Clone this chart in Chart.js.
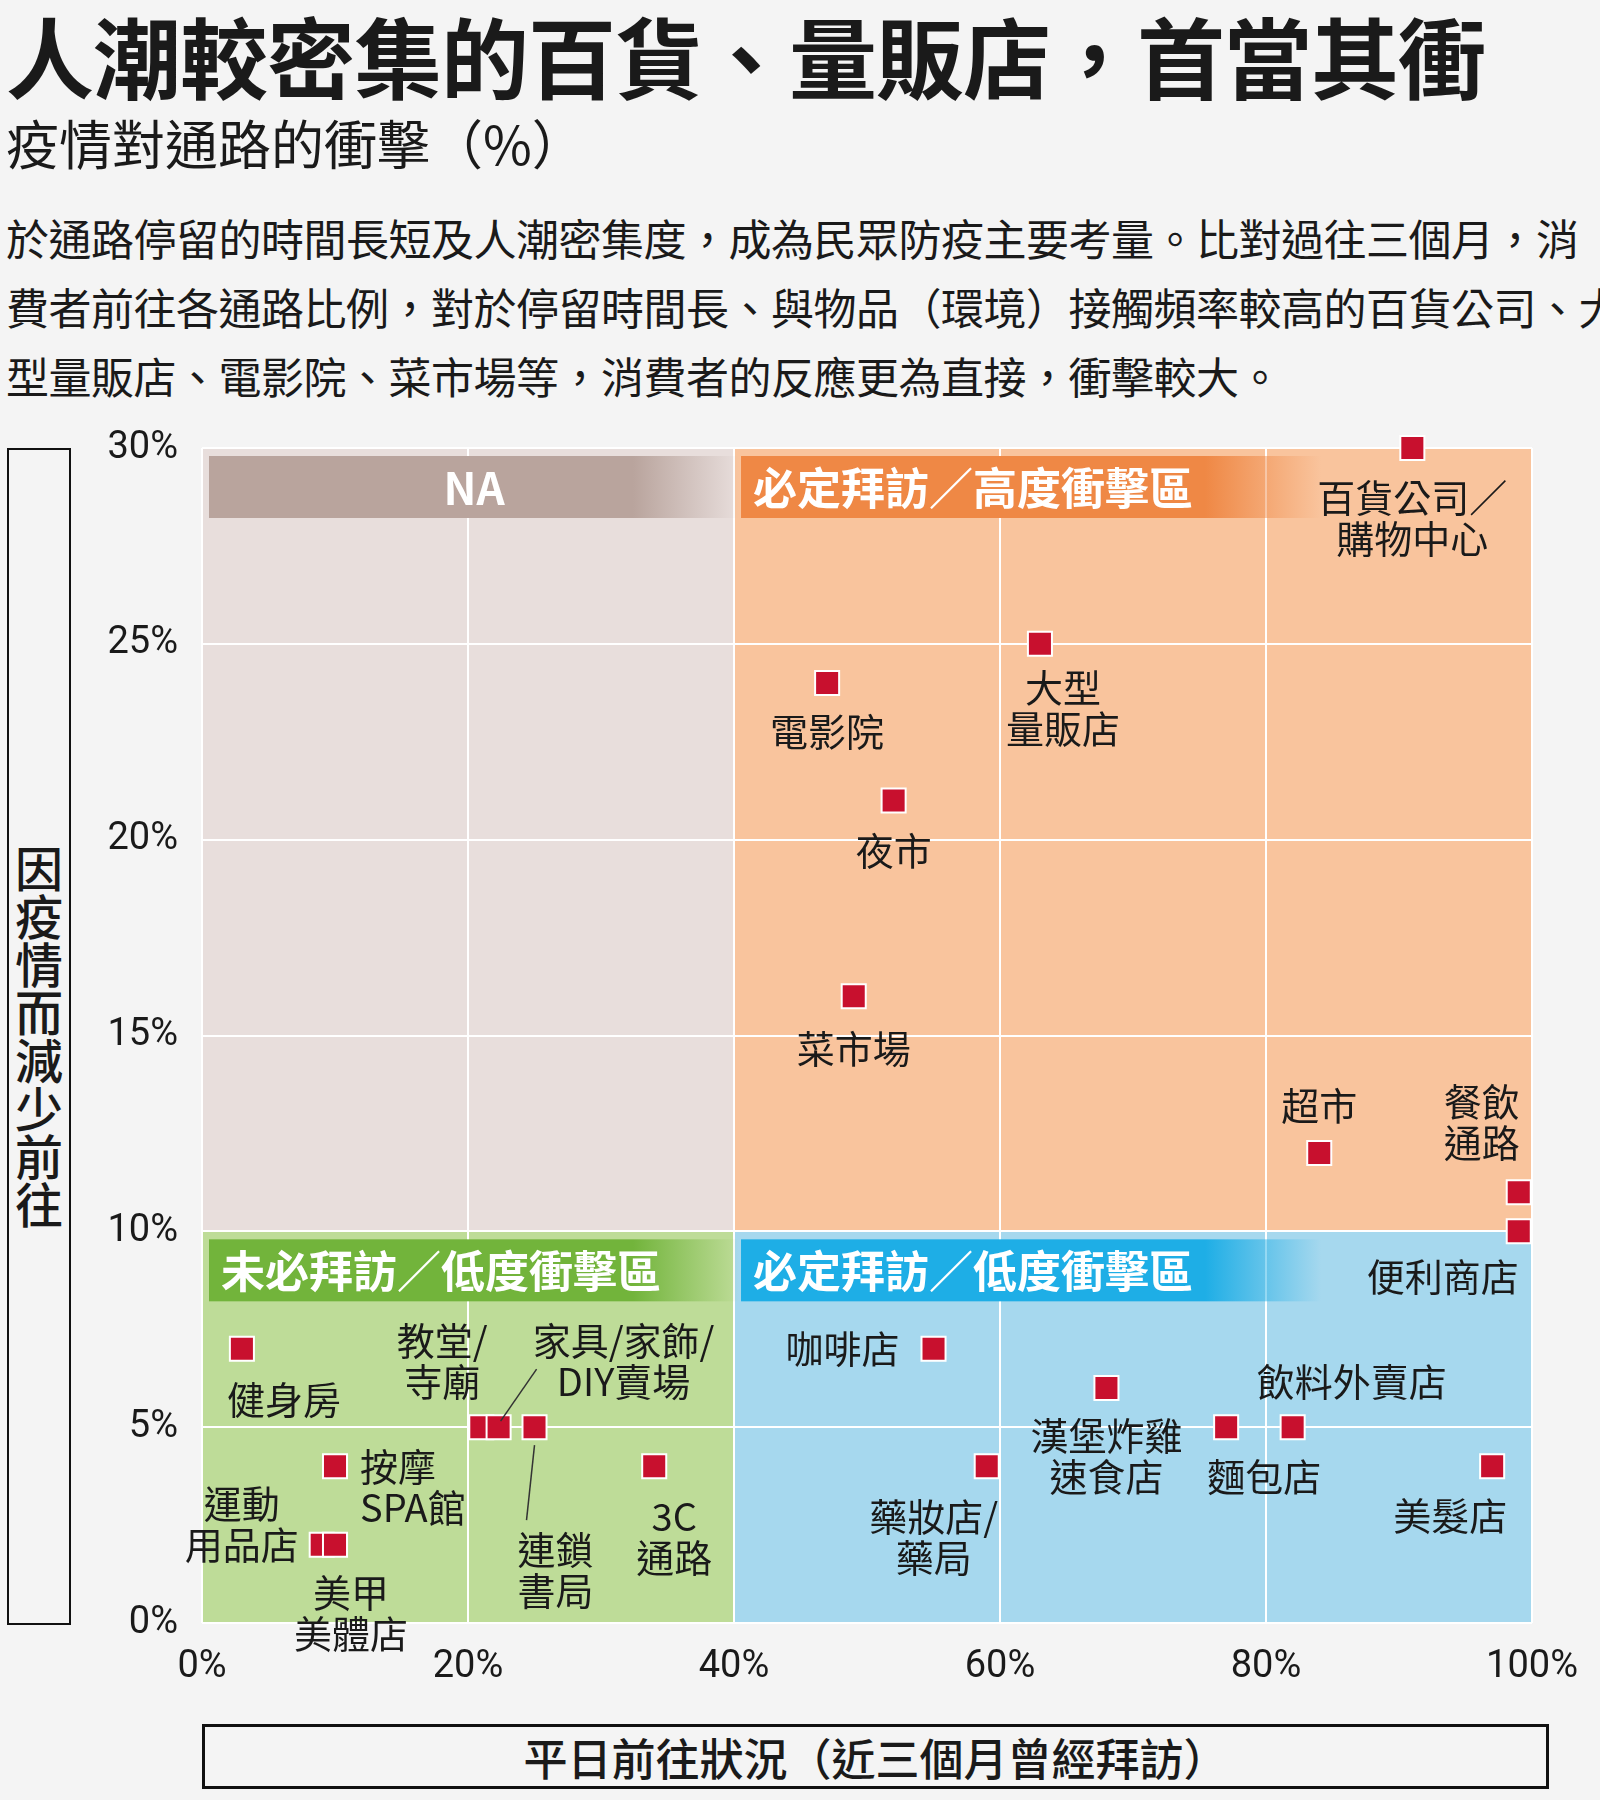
<!DOCTYPE html>
<html><head><meta charset="utf-8">
<script src="https://cdn.jsdelivr.net/npm/chart.js@4.4.0/dist/chart.umd.min.js"></script>
<style>
body{margin:0;background:#f4f4f4;font-family:"Noto Sans CJK TC","Noto Sans",sans-serif;color:#1a1a1a}
#wrap{position:relative;width:1600px;height:1800px;overflow:hidden}
.t{position:absolute;white-space:nowrap}
#title{left:6px;top:-10px;font-size:88px;font-weight:700;letter-spacing:-1px}
#sub{left:6px;top:104px;font-size:53px}
#para{left:6px;top:203px;font-size:43px;line-height:69px;letter-spacing:-0.5px}
#ybox{position:absolute;left:7px;top:448px;width:60px;height:1173px;border:2px solid #111;display:flex;align-items:center;justify-content:center}
#ybox span{writing-mode:vertical-rl;font-size:48px;font-weight:500;letter-spacing:0}
#xbox{position:absolute;left:202px;top:1724px;width:1341px;height:59px;border:3px solid #111;display:flex;align-items:center;justify-content:center;font-size:44px;font-weight:500}
canvas{position:absolute;left:0;top:0}
</style></head><body>
<div id="wrap">
<div class="t" id="title">人潮較密集的百貨、量販店，首當其衝</div>
<div class="t" id="sub">疫情對通路的衝擊（%）</div>
<div class="t" id="para">於通路停留的時間長短及人潮密集度，成為民眾防疫主要考量。比對過往三個月，消<br>費者前往各通路比例，對於停留時間長、與物品（環境）接觸頻率較高的百貨公司、大<br>型量販店、電影院、菜市場等，消費者的反應更為直接，衝擊較大。</div>
<div id="ybox"><span>因疫情而減少前往</span></div>
<div id="xbox">平日前往狀況（近三個月曾經拜訪）</div>
<canvas id="c" width="1600" height="1800"></canvas>
</div>
<script>
// channel names, x = 平日前往 %, y = 減少前往 %
const names = ["百貨公司／購物中心","大型量販店","電影院","夜市","菜市場","超市","餐飲通路","便利商店",
  "咖啡店","漢堡炸雞速食店","飲料外賣店","麵包店","藥妝店/藥局","美髮店",
  "健身房","按摩SPA館","運動用品店","美甲美體店","教堂/寺廟","家具/家飾/DIY賣場","連鎖書局","3C通路"];
const visitPct = [91,63,47,52,49,84,99,99, 55,68,82,77,59,97, 3,10,9,10,21,22.3,25,34];
const dropPct  = [30,25,24,21,16,12,11,10, 7,6,5,5,4,4, 7,4,2,2,5,5,5,4];
const xTicks = ["0%","20%","40%","60%","80%","100%"];
const yTicks = ["0%","5%","10%","15%","20%","25%","30%"];

// label text lines and offsets from the point (px)
const labelLines = [["百貨公司／","購物中心"],["大型","量販店"],["電影院"],["夜市"],["菜市場"],["超市"],["餐飲","通路"],["便利商店"],
  ["咖啡店"],["漢堡炸雞","速食店"],["飲料外賣店"],["麵包店"],["藥妝店/","藥局"],["美髮店"],
  ["健身房"],["按摩","SPA館"],["運動","用品店"],["美甲","美體店"],["教堂/","寺廟"],["家具/家飾/","DIY賣場"],["連鎖","書局"],["3C","通路"]];
const labelOff = [[0,50],[23,44],[0,49],[0,50],[0,52],[0,-47],[-37,-91],[-76,45],
  [-91,0],[0,48],[59,-46],[38,49],[-53,50],[-42,49],
  [42,51],[25,0,"left"],[-80,-41],[16,48],[-39,-87],[125,-87],[21,122],[20,50]];
const leaders = [[19,[[2,-6],[38,-58]]],[20,[[0,18],[-8,93]]]];

const quads = [
  {x0:0,x1:40,y0:10,y1:30,bg:"#e8dedc",band:"#b9a49d",text:"NA",center:true,bw:530},
  {x0:40,x1:100,y0:10,y1:30,bg:"#f9c49d",band:"#ef8845",text:"必定拜訪／高度衝擊區",bw:580},
  {x0:0,x1:40,y0:0,y1:10,bg:"#bedc98",band:"#72b43b",text:"未必拜訪／低度衝擊區",bw:530},
  {x0:40,x1:100,y0:0,y1:10,bg:"#a6d8ee",band:"#1eaee6",text:"必定拜訪／低度衝擊區",bw:580}
];

const bgPlugin = {
  id:"bg",
  beforeDraw(chart){
    const {ctx,scales:{x,y}} = chart;
    ctx.save();
    quads.forEach(q=>{
      const l=x.getPixelForValue(q.x0), r=x.getPixelForValue(q.x1);
      const t=y.getPixelForValue(q.y1), b=y.getPixelForValue(q.y0);
      ctx.fillStyle=q.bg; ctx.fillRect(l,t,r-l,b-t);
    });
    ctx.restore();
  },
  afterDatasetsDraw(chart){
    const {ctx,scales:{x,y}} = chart;
    ctx.save();
    quads.forEach(q=>{
      const l=x.getPixelForValue(q.x0)+7;
      const t=y.getPixelForValue(q.y1)+8;
      const w=q.bw;
      const g=ctx.createLinearGradient(l,0,l+w,0);
      g.addColorStop(0,q.band); g.addColorStop(0.8,q.band);
      g.addColorStop(1,q.band+"00");
      ctx.fillStyle=g; ctx.fillRect(l,t,w,62);
      ctx.fillStyle="#fff"; ctx.font="700 44px 'Noto Sans CJK TC'";
      ctx.textBaseline="middle";
      if(q.center){ctx.textAlign="center";ctx.fillText(q.text,l+w/2,t+32);}
      else{ctx.textAlign="left";ctx.fillText(q.text,l+12,t+32);}
    });
    // labels
    const meta=chart.getDatasetMeta(0);
    ctx.fillStyle="#1a1a1a"; ctx.font="400 38px 'Noto Sans CJK TC'";
    ctx.textBaseline="middle";
    meta.data.forEach((p,i)=>{
      const o=labelOff[i];
      ctx.textAlign=o[2]||"center";
      labelLines[i].forEach((s,k)=>ctx.fillText(s,p.x+o[0],p.y+o[1]+k*41));
    });
    ctx.strokeStyle="#333"; ctx.lineWidth=1.5;
    leaders.forEach(([i,seg])=>{
      const p=meta.data[i];
      ctx.beginPath(); ctx.moveTo(p.x+seg[0][0],p.y+seg[0][1]); ctx.lineTo(p.x+seg[1][0],p.y+seg[1][1]); ctx.stroke();
    });
    ctx.restore();
  }
};

new Chart(document.getElementById("c"),{
  type:"scatter",
  data:{labels:names,datasets:[{
    data:visitPct.map((v,i)=>({x:v,y:dropPct[i]})),
    pointStyle:"rect",pointRadius:17,backgroundColor:"#c8102e",borderColor:"#fff",borderWidth:2,clip:false
  }]},
  options:{
    responsive:false,animation:false,
    layout:{padding:{top:448,right:27,left:0,bottom:0}},
    plugins:{legend:{display:false},tooltip:{enabled:false}},
    scales:{
      x:{min:0,max:100,grid:{color:"#fff",lineWidth:2,drawTicks:false},border:{display:false},
        afterFit(s){s.height=177;},
        ticks:{stepSize:20,padding:22,color:"#1a1a1a",font:{size:38,family:"Roboto"},callback:(v)=>xTicks[v/20]}},
      y:{min:0,max:30,grid:{color:"#fff",lineWidth:2,drawTicks:false},border:{display:false},
        afterFit(s){s.width=202;},
        ticks:{stepSize:5,padding:24,color:"#1a1a1a",font:{size:38,family:"Roboto"},callback:(v)=>yTicks[v/5]}}
    }
  },
  plugins:[bgPlugin]
});
</script>
</body></html>
